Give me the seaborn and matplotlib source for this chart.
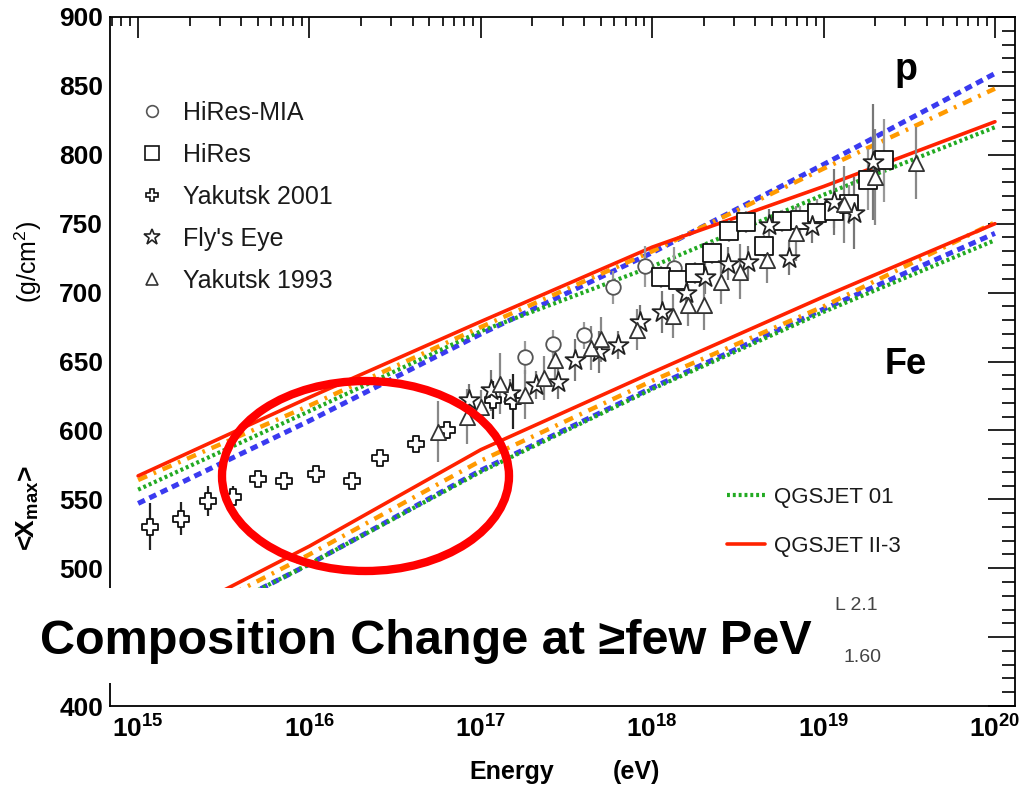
import numpy as np
import pandas as pd
import matplotlib
matplotlib.use("Agg")
import matplotlib.pyplot as plt
import seaborn as sns
from matplotlib.patches import Rectangle, Ellipse
from matplotlib.lines import Line2D
from matplotlib.ticker import LogLocator, NullFormatter, FixedLocator, MultipleLocator

sns.set_theme(style="white")
plt.rcParams['font.family'] = ['Liberation Sans', 'DejaVu Sans']
plt.rcParams['mathtext.fontset'] = 'custom'
plt.rcParams['mathtext.rm'] = 'Liberation Sans'
plt.rcParams['mathtext.bf'] = 'Liberation Sans:bold'
plt.rcParams['mathtext.it'] = 'Liberation Sans:italic'
plt.rcParams['text.color'] = 'black'
plt.rcParams['axes.labelcolor'] = 'black'
plt.rcParams['xtick.color'] = 'black'
plt.rcParams['ytick.color'] = 'black'

# ---------------- model curves (log10 E/eV nodes, Xmax in g/cm2) ----------------
model_lgE = [15, 16, 17, 18, 19, 20]
p_qgsjet2 = [567, 624, 679, 733, 777, 824]       # red solid
p_model_orange = [564, 618, 675, 730, 790, 848]  # orange dash-dot
p_qgsjet01 = [557, 614, 672, 719, 771, 820]      # green dotted
p_model_blue = [547, 607, 670, 729, 793, 859]    # blue dashed
fe_qgsjet2 = [452, 516, 586, 642, 697, 750]
fe_model_orange = [446, 510, 578, 636, 690, 751]
fe_qgsjet01 = [440, 503, 570, 630, 686, 738]
fe_model_blue = [440, 503, 571, 631, 688, 743]

# ---------------- measurements ----------------
yak01_lgE = [15.07, 15.25, 15.41, 15.555, 15.70, 15.85, 16.04, 16.25, 16.41, 16.62, 16.80, 17.07, 17.19]
yak01_X = [530, 536, 549, 552, 565, 563, 568, 563, 580, 590, 600, 622, 621]
yak01_err = [17, 12, 11, 8, 5, 4, 5, 4, 4, 5, 6, 14, 20]

yak93_lgE = [16.75, 16.92, 17.00, 17.11, 17.26, 17.37, 17.43, 17.64, 17.70, 17.91, 18.12, 18.21,
             18.30, 18.40, 18.51, 18.67, 18.84, 19.12, 19.30, 19.54]
yak93_X = [599, 610, 617, 634, 626, 638, 651, 660, 666, 673, 683, 691, 691, 708, 715, 724, 743, 764, 784, 794]
yak93_err = [22, 20, 12, 22, 18, 16, 14, 16, 16, 15, 16, 15, 18, 16, 20, 17, 20, 28, 35, 26]

mia_lgE = [17.26, 17.42, 17.60, 17.77, 17.96, 18.13]
mia_X = [653, 663, 669, 704, 719, 718]
mia_err = [12, 10, 10, 12, 15, 15]

hires_lgE = [18.05, 18.15, 18.25, 18.35, 18.45, 18.55, 18.65, 18.76, 18.86, 18.96, 19.06, 19.15, 19.26, 19.35]
hires_X = [711, 709, 714, 729, 745, 751, 734, 752, 753, 758, 759, 764, 782, 796]
hires_err = [8, 8, 8, 8, 8, 8, 8, 8, 10, 10, 12, 14, 22, 30]

fly_lgE = [16.93, 17.06, 17.17, 17.32, 17.45, 17.55, 17.69, 17.80, 17.93, 18.06, 18.20, 18.31,
           18.44, 18.56, 18.68, 18.80, 18.93, 19.06, 19.18, 19.29]
fly_X = [622, 629, 627, 633, 635, 651, 657, 662, 679, 686, 700, 711, 721, 722, 749, 725, 748, 766, 758, 795]
fly_err = [12, 15, 10, 10, 12, 15, 15, 10, 12, 15, 12, 12, 12, 12, 12, 12, 12, 24, 26, 42]

x_tick_exps = [15, 16, 17, 18, 19, 20]
y_ticks = [400, 450, 500, 550, 600, 650, 700, 750, 800, 850, 900]
y_tick_labels = ['400', '', '500', '550', '600', '650', '700', '750', '800', '850', '900']

W, H = 1021, 789
fig = plt.figure(figsize=(W / 100, H / 100), dpi=100)
fig.patch.set_facecolor('white')
ax = fig.add_axes([110 / W, 1 - 706 / H, (1015 - 110) / W, (706 - 17) / H])
ax.set_facecolor('white')

# model lines
curve_styles = [
    (p_model_blue, '#3a3af0', (0, (1.5, 1.0)), 3.6),
    (p_qgsjet01, '#22aa22', (0, (0.7, 0.7)), 3.0),
    (p_model_orange, '#ff9a00', (0, (2.2, 1.6, 0.6, 1.6)), 3.2),
    (p_qgsjet2, '#ff2200', '-', 2.6),
    (fe_model_blue, '#3a3af0', (0, (1.5, 1.0)), 3.6),
    (fe_qgsjet01, '#22aa22', (0, (0.7, 0.7)), 3.0),
    (fe_model_orange, '#ff9a00', (0, (2.2, 1.6, 0.6, 1.6)), 3.2),
    (fe_qgsjet2, '#ff2200', '-', 2.6),
]
E_model = 10.0 ** np.array(model_lgE)
for vals, col, ls, lw in curve_styles:
    sns.lineplot(x=E_model, y=vals, ax=ax, color=col, linestyle=ls, linewidth=lw,
                 sort=False, legend=False, zorder=2)

# measurements
experiments = [
    ("HiRes-MIA", mia_lgE, mia_X, mia_err, 'o', 110, '#555555', '#999999'),
    ("HiRes", hires_lgE, hires_X, hires_err, 's', 150, '#111111', '#999999'),
    ("Yakutsk 2001", yak01_lgE, yak01_X, yak01_err, 'P', 130, '#111111', '#222222'),
    ("Fly's Eye", fly_lgE, fly_X, fly_err, '*', 230, '#222222', '#777777'),
    ("Yakutsk 1993", yak93_lgE, yak93_X, yak93_err, '^', 120, '#333333', '#888888'),
]
for name, lg, xm, er, mk, s, ec, errc in experiments:
    E = 10.0 ** np.array(lg)
    ax.errorbar(E, xm, yerr=er, fmt='none', ecolor=errc, elinewidth=1.6, capsize=0, zorder=3)
    df = pd.DataFrame({"E": E, "X": xm})
    sns.scatterplot(data=df, x="E", y="X", ax=ax, marker=mk, s=s, color='white',
                    edgecolor=ec, linewidth=1.3, zorder=4, legend=False)

ax.set_xscale('log')
ax.set_xlim(10 ** 14.836, 10 ** 20.117)
ax.set_ylim(400, 900)
ax.set_xlabel('')
ax.set_ylabel('')

ax.xaxis.set_major_locator(FixedLocator([10.0 ** e for e in x_tick_exps]))
ax.set_xticklabels([r'$\mathbf{10^{%d}}$' % e for e in x_tick_exps])
ax.xaxis.set_minor_locator(LogLocator(base=10, subs=np.arange(2, 10), numticks=50))
ax.xaxis.set_minor_formatter(NullFormatter())
ax.set_yticks(y_ticks)
ax.set_yticklabels(y_tick_labels)
ax.yaxis.set_minor_locator(MultipleLocator(10))

ax.tick_params(axis='both', which='both', direction='in', top=True, right=True,
               color='black', width=1.2, labelcolor='black')
ax.tick_params(axis='y', which='major', length=19.5, pad=5, labelsize=19)
ax.tick_params(axis='y', which='minor', length=9.5)
ax.tick_params(axis='x', which='major', length=15, pad=7, labelsize=19)
ax.tick_params(axis='x', which='minor', length=6.5)
for lab in ax.get_yticklabels():
    lab.set_fontweight('bold')
for sp in ax.spines.values():
    sp.set_color('black')
    sp.set_linewidth(1.3)

# legend of experiments
exp_handles = [Line2D([], [], linestyle='none', marker=mk, markersize=np.sqrt(s) * 0.8,
                      markerfacecolor='white', markeredgecolor=ec, markeredgewidth=1.2)
               for name, lg, xm, er, mk, s, ec, errc in experiments]
leg1 = ax.legend(exp_handles, [e[0] for e in experiments], loc='upper left',
                 bbox_to_anchor=(139 / W, 1 - 101 / H), bbox_transform=fig.transFigure,
                 frameon=False, fontsize=18, borderpad=0, handlelength=1.0,
                 handletextpad=0.75, labelspacing=0.72, borderaxespad=0)
for t in leg1.get_texts():
    t.set_color('#1a1a1a')
ax.add_artist(leg1)

# legend of models
model_handles = [Line2D([], [], color='#22aa22', linestyle=(0, (0.7, 0.7)), linewidth=3.0),
                 Line2D([], [], color='#ff2200', linestyle='-', linewidth=2.6)]
leg2 = ax.legend(model_handles, ["QGSJET 01", "QGSJET II-3"], loc='upper left',
                 bbox_to_anchor=(727 / W, 1 - 487 / H), bbox_transform=fig.transFigure,
                 frameon=False, fontsize=16, borderpad=0, handlelength=1.7,
                 handletextpad=0.4, labelspacing=1.25, borderaxespad=0)
for t in leg2.get_texts():
    t.set_color('#1a1a1a')

# labels p and Fe
fig.text(906 / W, 1 - 80 / H, "p", fontsize=27, fontweight='bold', ha='center', va='baseline',
         color='black')
fig.text(906 / W, 1 - 364 / H, "Fe", fontsize=26, fontweight='bold', ha='center', va='center',
         color='black')

# axis titles
fig.text(28 / W, 1 - 508 / H, r'<X$_{\mathbf{max}}$>', fontsize=19, fontweight='bold',
         rotation=90, ha='center', va='center', color='black')
fig.text(28 / W, 1 - 262 / H, r'(g/cm$^{2}$)', fontsize=18, rotation=90, ha='center', va='center',
         color='black')
fig.text(512 / W, 1 - 772 / H, "Energy", fontsize=18, fontweight='bold', ha='center', va='center',
         color='black')
fig.text(636 / W, 1 - 772 / H, "(eV)", fontsize=18, fontweight='bold', ha='center', va='center',
         color='black')

# white overlay with annotation
fig.add_artist(Rectangle((0, 1 - 683 / H), 830 / W, (683 - 588) / H, transform=fig.transFigure,
                         facecolor='white', edgecolor='none', zorder=5))
fig.text(40 / W, 1 - 654 / H, "Composition Change at \u2265few PeV", fontsize=35,
         fontweight='bold', ha='left', va='baseline', zorder=6, color='black',
         family=['Liberation Sans', 'DejaVu Sans'])
fig.text(835 / W, 1 - 605 / H, "L 2.1", fontsize=14, color='#444444', ha='left', va='center', zorder=6)
fig.text(843 / W, 1 - 658 / H, "1.60", fontsize=14, color='#444444', ha='left', va='center', zorder=6)

# red ellipse highlight
fig.add_artist(Ellipse((365.5 / W, 1 - 476 / H), 287 / W, 190 / H, transform=fig.transFigure,
                       facecolor='none', edgecolor='#ff0000', linewidth=6, zorder=7))

fig.savefig("out.png", dpi=100, facecolor='white')
